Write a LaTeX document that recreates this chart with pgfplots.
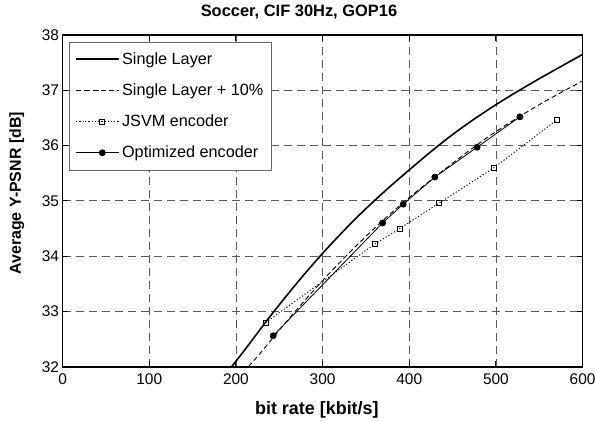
\documentclass[border=0pt]{standalone}
\usepackage{fontspec}
\setmainfont{Liberation Sans}
\usepackage{pgfplots}
\pgfplotsset{compat=1.18}

\begin{document}
\begin{tikzpicture}
\begin{axis}[
    scale only axis,
    width=520bp, height=331.7bp,
    xmin=0, xmax=600, ymin=32, ymax=38,
    xtick={0,100,...,600}, ytick={32,33,...,38},
    tick align=inside,
    major tick length=5.5bp,
    axis line style={line width=1.6bp},
    every tick/.style={black, line width=1bp},
    grid=major,
    grid style={black!65, line width=0.8bp, dash pattern=on 8bp off 5bp},
    /pgf/number format/assume math mode=true,
    tick label style={font=\fontsize{15.5}{18}\selectfont},
    xticklabel style={yshift=-3bp},
    title={Soccer, CIF 30Hz, GOP16},
    title style={font=\fontsize{16.5}{19}\selectfont\bfseries, at={(axis description cs:0.4546,1.051)}, anchor=center},
    xlabel={bit rate [kbit/s]},
    ylabel={Average Y-PSNR [dB]},
    xlabel style={font=\fontsize{18}{21}\selectfont\bfseries, at={(axis description cs:0.489,-0.1305)}, anchor=center},
    ylabel style={font=\fontsize{16}{19}\selectfont\bfseries, at={(axis description cs:-0.0883,0.5228)}, anchor=center},
    legend style={at={(axis description cs:0,1)}, anchor=north west,
        xshift=6.7bp, yshift=-6.7bp,
        font=\fontsize{16.3}{19}\selectfont,
        draw=black!60, fill=white,
        row sep=14bp, inner xsep=6bp, inner ysep=8.5bp},
    legend cell align=left,
    legend image code/.code={\path (-9bp,0bp) -- (0bp,0bp);
        \draw[mark repeat=2,mark phase=2,#1] plot coordinates {(0bp,0bp) (17bp,0bp) (34bp,0bp)};},
]
% Single Layer
\addplot[black, line width=1.6bp, smooth] coordinates {
    (195,32.0) (210,32.3) (234,32.8) (250,33.12) (275,33.6) (300,34.05)
    (325,34.47) (350,34.86) (375,35.22) (400,35.56) (425,35.89) (450,36.2)
    (475,36.48) (500,36.74) (525,36.98) (550,37.21) (575,37.43) (600,37.65)
};
\addlegendentry{Single Layer}
% Single Layer + 10%
\addplot[black, line width=0.9bp, dash pattern=on 5bp off 3bp, smooth] coordinates {
    (214.5,32.0) (231,32.3) (257.4,32.8) (275,33.12) (302.5,33.6) (330,34.05)
    (357.5,34.47) (385,34.86) (412.5,35.22) (440,35.56) (467.5,35.89) (495,36.2)
    (522.5,36.48) (550,36.74) (577.5,36.98) (605,37.21)
};
\addlegendentry{Single Layer + 10\%}
% JSVM encoder
\addplot[black, line width=0.9bp, dash pattern=on 1.2bp off 2bp,
    mark=square, mark size=2.5bp, mark options={solid, line width=0.7bp}] coordinates {
    (234.3,32.80) (360.3,34.22) (389.2,34.50) (434.5,34.96) (497.9,35.60) (569.9,36.46)
};
\addlegendentry{JSVM encoder}
% Optimized encoder
\addplot[black, line width=0.8bp, mark=*, mark size=3bp] coordinates {
    (243,32.56) (369.2,34.60) (393,34.94) (429.5,35.43) (478.3,35.97) (527.6,36.52)
};
\addlegendentry{Optimized encoder}
\end{axis}
\path (current axis.south west) ++(-62.6bp,-54.3bp) coordinate (bbSW);
\path (current axis.north east) ++(12.4bp,35bp) coordinate (bbNE);
\pgfresetboundingbox
\path[use as bounding box] (bbSW) rectangle (bbNE);
\end{tikzpicture}
\end{document}
